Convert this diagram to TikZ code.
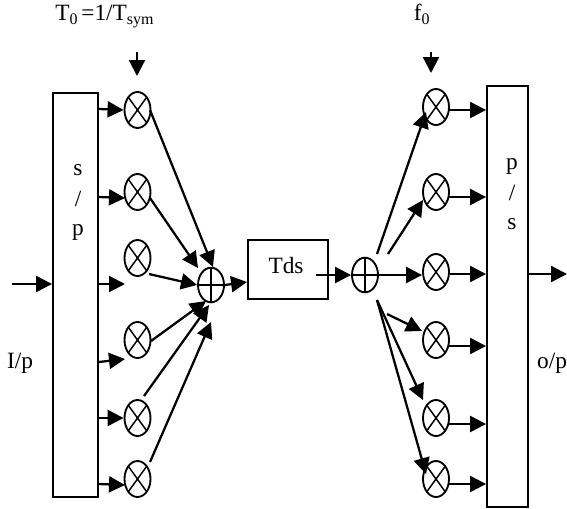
\documentclass[tikz,border=0pt]{standalone}
\usepackage{fontspec}
\setmainfont{Liberation Serif}
\usetikzlibrary{arrows.meta,shapes.geometric,calc}
\tikzset{
  x=0.75pt,y=-0.75pt,
  mult/.style={ellipse,draw,line width=1.4pt,minimum width=19.5pt,minimum height=27pt,inner sep=0pt,
    path picture={\draw[line width=1.1pt] (path picture bounding box.north east)--(path picture bounding box.south west)
      (path picture bounding box.north west)--(path picture bounding box.south east);}},
  summer/.style={ellipse,draw,line width=1.4pt,minimum width=19.5pt,minimum height=26pt,inner sep=0pt,
    path picture={\draw[line width=1.1pt] (path picture bounding box.north)--(path picture bounding box.south)
      (path picture bounding box.west)--(path picture bounding box.east);}},
  blockbox/.style={rectangle,draw,line width=1.4pt,inner sep=0pt},
  arr/.style={-{Triangle[length=12pt,width=12pt]},line width=1.7pt},
  lbl/.style={inner sep=0pt,font=\fontsize{17.5pt}{20pt}\selectfont}
}
\newcommand{\sm}[1]{{\fontsize{12pt}{14pt}\selectfont #1}}
\begin{document}
\begin{tikzpicture}
\useasboundingbox (0,0) rectangle (567,508);
\node[blockbox,minimum width=33.75pt,minimum height=303pt] (sp) at (75.5,295) {};
\node[blockbox,minimum width=30.75pt,minimum height=315.75pt] (ps) at (507.5,296.5) {};
\node[blockbox,minimum width=60pt,minimum height=44.25pt] (tds) at (288,269.5) {};
\node[lbl] (tdst) at (286,266) {Tds};
\node[lbl] (s1) at (78,170) {s};
\node[lbl] (s2) at (78,199) {/};
\node[lbl] (s3) at (78,232) {p};
\node[lbl] (p1) at (512,166) {p};
\node[lbl] (p2) at (512,193) {/};
\node[lbl] (p3) at (512,224) {s};
\node[lbl,anchor=base west] (t0) at (55,20) {T\raisebox{-3.5pt}{\sm{0}}\,=1/T\raisebox{-3.5pt}{\sm{sym}}};
\node[lbl,anchor=base west] (f0) at (413.5,20) {f\raisebox{-3.5pt}{\sm{0}}};
\node[lbl] (ip) at (20,363) {I/p};
\node[lbl] (op) at (552,363) {o/p};
\foreach \n/\yy in {1/110,2/192,3/258,4/340,5/418,6/479}
  \node[mult] (l\n) at (137.5,\yy) {};
\foreach \n/\yy in {1/107,2/192,3/272,4/340,5/418,6/479}
  \node[mult] (r\n) at (436,\yy) {};
\node[summer] (sa) at (211,285) {};
\node[summer] (sb) at (365,275) {};
% free ends
\coordinate (ctop) at (137,52);
\coordinate (ctopt) at (137,76);
\coordinate (ftop) at (431,52);
\coordinate (ftopt) at (431,73);
\coordinate (inp) at (12,284);
\coordinate (outp) at (567,274);
\coordinate (a3) at (125,284);
\coordinate (a4) at (125,359);
\coordinate (sbin) at (316,275);
\draw[arr] (ctop)--(ctopt);
\draw[arr] (ftop)--(ftopt);
\draw[arr] (inp)--(sp.west |- inp);
\draw[arr] (sp.east |- 0,109)--(l1.west);
\draw[arr] (sp.east |- 0,197)--(125,198);
\draw[arr] (sp.east |- a3)--(a3);
\draw[arr] (sp.east |- 0,362)--(a4);
\draw[arr] (sp.east |- 0,418)--(l5.west);
\draw[arr] (sp.east |- 0,484)--(125,485);
\draw[arr] (150,110)--(213,267);
\draw[arr] (150,198)--(198,268);
\draw[arr] (149,274)--(197,285);
\draw[arr] (151,341)--(206,301);
\draw[arr] (144,396)--(209,305);
\draw[arr] (150,462)--(211,322);
\draw[arr] (sa.east)--(tds.west |- 0,282);
\draw[arr] (sbin)--(sb.west);
\draw[arr] (sb.east)--(r3.west |- sb.east);
\draw[arr] (377,254)--(426,112);
\draw[arr] (388,254)--(423,200);
\draw[arr] (387,314)--(422,331);
\draw[arr] (377,300)--(423,400);
\draw[arr] (377,300)--(426,474);
\draw[arr] (449,110)--(ps.west |- 0,110);
\draw[arr] (449,197)--(ps.west |- 0,197);
\draw[arr] (449,274)--(ps.west |- 0,274);
\draw[arr] (449,346)--(ps.west |- 0,346);
\draw[arr] (449,424)--(ps.west |- 0,424);
\draw[arr] (449,484)--(ps.west |- 0,484);
\draw[arr] (ps.east |- outp)--(outp);
\end{tikzpicture}
\end{document}
